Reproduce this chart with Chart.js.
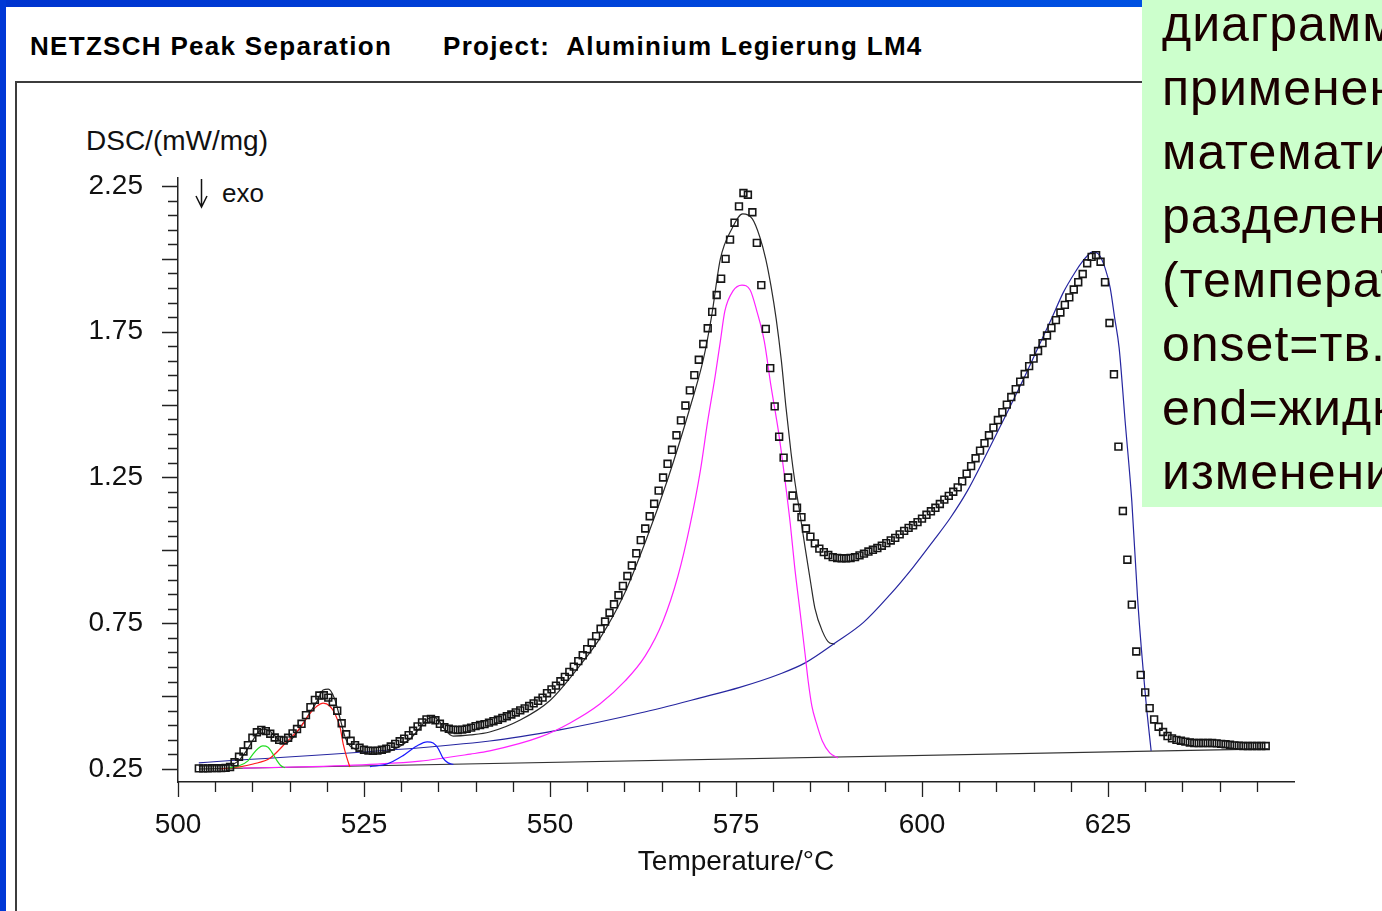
<!DOCTYPE html>
<html>
<head>
<meta charset="utf-8">
<title>NETZSCH Peak Separation</title>
<script src="https://cdn.jsdelivr.net/npm/chart.js@4.4.1/dist/chart.umd.min.js"></script>
<style>
  html, body { margin: 0; padding: 0; }
  body { width: 1382px; height: 911px; position: relative; overflow: hidden; background: #fff;
         font-family: "Liberation Sans", Arial, sans-serif; color: #111; }
  #blueTop { position: absolute; left: 0; top: 0; width: 1382px; height: 7px;
             background: linear-gradient(90deg, #0034cf, #0057e6); }
  #blueLeft { position: absolute; left: 0; top: 0; width: 6px; height: 911px; background: #0038d6; }
  #frame { position: absolute; left: 15px; top: 81px; width: 1400px; height: 900px;
           border-top: 2px solid #3c3c3c; border-left: 2px solid #3c3c3c; }
  .head { position: absolute; top: 33px; font-weight: bold; font-size: 26px; line-height: 26px;
          letter-spacing: 1.3px; color: #000; white-space: nowrap; }
  #yTitle { position: absolute; left: 86px; top: 127px; font-size: 28px; line-height: 28px; white-space: nowrap; }
  #exo { position: absolute; left: 222px; top: 180px; font-size: 26px; line-height: 26px; }
  #arrow { position: absolute; left: 190px; top: 176px; }
  #wrap { position: absolute; left: 0; top: 0; width: 1382px; height: 911px; }
  #note { position: absolute; left: 1142px; top: 0; width: 240px; height: 507px; background: #ccffcc;
          overflow: hidden; }
  #note div { position: absolute; left: 20px; top: -8px; font-size: 50px; line-height: 64px;
              letter-spacing: 1px; color: #1b0000; white-space: nowrap; }
</style>
</head>
<body>
<div id="blueTop"></div>
<div id="blueLeft"></div>
<div id="frame"></div>
<div class="head" style="left:30px">NETZSCH Peak Separation</div>
<div class="head" style="left:443px">Project:&nbsp; Aluminium Legierung LM4</div>
<div id="yTitle">DSC/(mW/mg)</div>
<svg id="arrow" width="24" height="36">
  <path d="M11.5 3 V31 M6 20 L11.5 31 L17 20" stroke="#111" stroke-width="1.5" fill="none"/>
</svg>
<div id="exo">exo</div>
<div id="wrap"><canvas id="myChart"></canvas></div>
<div id="note"><div>диаграммы<br>применение<br>математического<br>разделения<br>(температура<br>onset=тв.<br>end=жидкость<br>изменения</div></div>

<script>
// measured DSC curve, one square per sample
var tempC = [
  502.8, 503.4, 504.0, 504.6, 505.2, 505.8, 506.4, 507.0, 507.6, 508.2,
  508.8, 509.4, 510.0, 510.6, 511.2, 511.8, 512.4, 513.0, 513.6, 514.2,
  514.8, 515.4, 516.0, 516.6, 517.2, 517.8, 518.4, 519.0, 519.6, 520.2,
  520.8, 521.4, 522.0, 522.6, 523.2, 523.8, 524.4, 525.0, 525.6, 526.2,
  526.8, 527.4, 528.0, 528.6, 529.2, 529.8, 530.4, 531.0, 531.6, 532.2,
  532.8, 533.4, 534.0, 534.6, 535.2, 535.8, 536.4, 537.0, 537.6, 538.2,
  538.8, 539.4, 540.0, 540.6, 541.2, 541.8, 542.4, 543.0, 543.6, 544.2,
  544.8, 545.4, 546.0, 546.6, 547.2, 547.8, 548.4, 549.0, 549.6, 550.2,
  550.8, 551.4, 552.0, 552.6, 553.2, 553.8, 554.4, 555.0, 555.6, 556.2,
  556.8, 557.4, 558.0, 558.6, 559.2, 559.8, 560.4, 561.0, 561.6, 562.2,
  562.8, 563.4, 564.0, 564.6, 565.2, 565.8, 566.4, 567.0, 567.6, 568.2,
  568.8, 569.4, 570.0, 570.6, 571.2, 571.8, 572.4, 573.0, 573.6, 574.2,
  574.8, 575.4, 576.0, 576.6, 577.2, 577.8, 578.4, 579.0, 579.6, 580.2,
  580.8, 581.4, 582.0, 582.6, 583.2, 583.8, 584.4, 585.0, 585.6, 586.2,
  586.8, 587.4, 588.0, 588.6, 589.2, 589.8, 590.4, 591.0, 591.6, 592.2,
  592.8, 593.4, 594.0, 594.6, 595.2, 595.8, 596.4, 597.0, 597.6, 598.2,
  598.8, 599.4, 600.0, 600.6, 601.2, 601.8, 602.4, 603.0, 603.6, 604.2,
  604.8, 605.4, 606.0, 606.6, 607.2, 607.8, 608.4, 609.0, 609.6, 610.2,
  610.8, 611.4, 612.0, 612.6, 613.2, 613.8, 614.4, 615.0, 615.6, 616.2,
  616.8, 617.4, 618.0, 618.6, 619.2, 619.8, 620.4, 621.0, 621.6, 622.2,
  622.8, 623.4, 624.0, 624.6, 625.2, 625.8, 626.4, 627.0, 627.6, 628.2,
  628.8, 629.4, 630.0, 630.6, 631.2, 631.8, 632.4, 633.0, 633.6, 634.2,
  634.8, 635.4, 636.0, 636.6, 637.2, 637.8, 638.4, 639.0, 639.6, 640.2,
  640.8, 641.4, 642.0, 642.6, 643.2, 643.8, 644.4, 645.0, 645.6, 646.2
];
var dscMeasured = [
  0.252, 0.252, 0.252, 0.253, 0.253, 0.253, 0.254, 0.257, 0.273, 0.292,
  0.310, 0.332, 0.357, 0.376, 0.384, 0.380, 0.371, 0.358, 0.350, 0.348,
  0.357, 0.372, 0.387, 0.405, 0.435, 0.462, 0.487, 0.502, 0.503, 0.495,
  0.480, 0.450, 0.407, 0.369, 0.347, 0.332, 0.323, 0.316, 0.313, 0.312,
  0.313, 0.316, 0.320, 0.327, 0.336, 0.345, 0.354, 0.366, 0.381, 0.396,
  0.410, 0.420, 0.422, 0.417, 0.405, 0.393, 0.388, 0.385, 0.384, 0.385,
  0.388, 0.392, 0.397, 0.401, 0.404, 0.409, 0.414, 0.419, 0.425, 0.431,
  0.437, 0.444, 0.451, 0.458, 0.466, 0.475, 0.484, 0.495, 0.510, 0.523,
  0.536, 0.551, 0.566, 0.583, 0.601, 0.620, 0.640, 0.661, 0.683, 0.706,
  0.731, 0.756, 0.786, 0.815, 0.846, 0.878, 0.912, 0.948, 0.990, 1.035,
  1.075, 1.117, 1.160, 1.205, 1.250, 1.297, 1.345, 1.395, 1.446, 1.497,
  1.549, 1.601, 1.654, 1.708, 1.762, 1.818, 1.876, 1.932, 2.000, 2.066,
  2.124, 2.180, 2.226, 2.220, 2.160, 2.055, 1.910, 1.760, 1.625, 1.494,
  1.390, 1.318, 1.250, 1.188, 1.146, 1.114, 1.075, 1.047, 1.024, 1.006,
  0.994, 0.984, 0.977, 0.974, 0.973, 0.973, 0.974, 0.977, 0.983, 0.989,
  0.996, 1.002, 1.008, 1.016, 1.025, 1.034, 1.043, 1.055, 1.067, 1.077,
  1.086, 1.097, 1.109, 1.122, 1.134, 1.146, 1.159, 1.174, 1.187, 1.201,
  1.216, 1.237, 1.263, 1.289, 1.316, 1.342, 1.368, 1.395, 1.421, 1.447,
  1.474, 1.500, 1.526, 1.553, 1.579, 1.605, 1.632, 1.658, 1.684, 1.711,
  1.737, 1.763, 1.790, 1.816, 1.842, 1.868, 1.895, 1.920, 1.948, 1.985,
  2.007, 2.013, 1.990, 1.920, 1.780, 1.604, 1.356, 1.135, 0.968, 0.814,
  0.653, 0.573, 0.513, 0.459, 0.420, 0.395, 0.377, 0.363, 0.355, 0.350,
  0.347, 0.344, 0.341, 0.339, 0.339, 0.339, 0.339, 0.339, 0.338, 0.336,
  0.335, 0.333, 0.331, 0.330, 0.329, 0.329, 0.329, 0.329, 0.329, 0.329
];

// sum of the fitted peaks
var fitSumT = [502.8, 507.0, 508.1, 509.0, 510.0, 510.8, 511.4, 512.1, 512.9, 513.7, 514.5, 515.3,
  516.4, 517.7, 518.8, 519.5, 520.2, 521.0, 521.8, 522.5, 523.1, 524.2, 525.5, 527.2, 529.2, 531.2,
  532.5, 533.6, 534.3, 535.0, 535.9, 537.0, 539.3, 541.9, 546.0, 550.0, 553.9, 556.9, 559.9, 562.9,
  565.9, 568.9, 570.6, 571.7, 572.9, 574.5, 575.9, 577.2, 578.2, 579.0, 579.7, 580.4, 581.1, 581.7,
  582.4, 582.9, 583.6, 584.3, 585.0, 585.6, 586.6, 587.6, 588.3];
var fitSumV = [0.260, 0.264, 0.277, 0.305, 0.346, 0.377, 0.387, 0.384, 0.367, 0.346, 0.339, 0.353,
  0.391, 0.442, 0.487, 0.521, 0.524, 0.494, 0.422, 0.356, 0.329, 0.315, 0.305, 0.305, 0.319, 0.353,
  0.391, 0.422, 0.428, 0.418, 0.384, 0.363, 0.367, 0.377, 0.418, 0.485, 0.601, 0.706, 0.846, 1.035,
  1.250, 1.497, 1.654, 1.800, 2.000, 2.106, 2.154, 2.137, 2.075, 1.999, 1.907, 1.794, 1.650, 1.495,
  1.334, 1.238, 1.125, 1.008, 0.895, 0.802, 0.723, 0.682, 0.679];

// single peaks
var peak1T = [506.7, 508.3, 509.4, 510.1, 510.8, 511.4, 512.1, 512.6, 513.3, 513.8, 514.4];
var peak1V = [0.253, 0.262, 0.278, 0.302, 0.321, 0.329, 0.325, 0.308, 0.279, 0.262, 0.254];

var peak2T = [505.6, 508.3, 510.1, 512.4, 514.6, 516.4, 517.7, 518.7, 519.5, 520.4, 521.1, 521.8,
  522.2, 522.7, 523.1];
var peak2V = [0.250, 0.257, 0.267, 0.288, 0.343, 0.391, 0.439, 0.466, 0.476, 0.466, 0.439, 0.391,
  0.336, 0.288, 0.257];

var peak3T = [525.8, 528.1, 530.2, 532.1, 533.5, 534.3, 535.0, 535.6, 536.3, 537.0];
var peak3V = [0.258, 0.267, 0.295, 0.329, 0.343, 0.339, 0.319, 0.288, 0.271, 0.266];

var peak4T = [508.7, 516.4, 526.8, 532.5, 539.3, 541.9, 548.7, 552.7, 556.7, 560.1, 562.8, 565.2,
  567.2, 568.8, 570.2, 571.2, 572.2, 572.9, 573.5, 574.6, 575.8, 576.9, 577.8, 578.8, 579.7, 580.7,
  581.6, 582.3, 582.9, 583.6, 584.3, 584.7, 585.2, 585.8, 586.6, 587.6, 588.7];
var peak4V = [0.253, 0.257, 0.267, 0.277, 0.301, 0.312, 0.360, 0.408, 0.473, 0.552, 0.638, 0.758,
  0.912, 1.084, 1.272, 1.444, 1.598, 1.718, 1.821, 1.890, 1.910, 1.893, 1.821, 1.718, 1.564, 1.409,
  1.238, 1.090, 0.940, 0.792, 0.641, 0.552, 0.466, 0.408, 0.346, 0.305, 0.288];

var peak5T = [502.8, 541.9, 551.3, 562.1, 570.2, 575.5, 580.9, 584.3, 588.3, 592.1, 595.7, 598.8,
  601.5, 603.8, 606.1, 608.5, 611.0, 613.5, 615.9, 617.5, 619.0, 620.6, 621.6, 622.2, 622.9, 623.7,
  624.6, 625.3, 625.9, 626.5, 627.3, 628.2, 629.0, 630.1, 630.8];
var peak5V = [0.271, 0.346, 0.384, 0.442, 0.494, 0.530, 0.576, 0.614, 0.682, 0.752, 0.848, 0.942,
  1.032, 1.111, 1.204, 1.322, 1.450, 1.580, 1.712, 1.800, 1.885, 1.955, 1.992, 2.010, 2.024, 2.017,
  1.969, 1.900, 1.797, 1.694, 1.444, 1.169, 0.826, 0.483, 0.312];

var baseT = [502.8, 646.5];
var baseV = [0.250, 0.319];

var xTickLabels = [500, 525, 550, 575, 600, 625];
var yTickLabels = [0.25, 0.75, 1.25, 1.75, 2.25];
var xMinorStep = 5;
var yMinorStep = 0.05;

function pairs(xs, ys) {
  var out = [];
  for (var i = 0; i < xs.length; i++) out.push({x: xs[i], y: ys[i]});
  return out;
}

function fitLine(xs, ys, color) {
  return {
    data: pairs(xs, ys),
    showLine: true,
    borderColor: color,
    borderWidth: 1.2,
    pointRadius: 0,
    cubicInterpolationMode: 'monotone',
    fill: false
  };
}

// short and long tick marks outside the axes
var tickMarks = {
  id: 'tickMarks',
  afterDraw: function (chart) {
    var ctx = chart.ctx, xs = chart.scales.x, ys = chart.scales.y;
    ctx.save();
    ctx.strokeStyle = '#222';
    ctx.lineWidth = 1.3;
    ctx.beginPath();
    for (var t = xs.min; t < xs.max - 0.01; t += xMinorStep) {
      var px = Math.round(xs.getPixelForValue(t)) + 0.5;
      var lx = (Math.round(t) % 25 === 0) ? 15 : 10;
      ctx.moveTo(px, xs.top);
      ctx.lineTo(px, xs.top + lx);
    }
    var first = yTickLabels[0], last = yTickLabels[yTickLabels.length - 1];
    var n = Math.round((last - first) / yMinorStep);
    for (var k = 0; k <= n; k++) {
      var py = Math.round(ys.getPixelForValue(first + k * yMinorStep)) + 0.5;
      var ly = (k % 5 === 0) ? 16 : 10;
      ctx.moveTo(ys.right - ly, py);
      ctx.lineTo(ys.right, py);
    }
    ctx.stroke();
    ctx.restore();
  }
};

Chart.defaults.font.family = "'Liberation Sans', Arial, sans-serif";
Chart.defaults.color = '#111';

var datasets = [];
datasets.push({
  data: pairs(tempC, dscMeasured),
  showLine: false,
  pointStyle: 'rect',
  pointRadius: 4.8,
  pointBorderWidth: 1.6,
  pointBorderColor: '#161616',
  pointBackgroundColor: 'rgba(255,255,255,0)'
});
datasets.push(fitLine(peak1T, peak1V, '#22dd22'));
datasets.push(fitLine(peak2T, peak2V, '#ff1a1a'));
datasets.push(fitLine(peak3T, peak3V, '#1a1aff'));
datasets.push(fitLine(peak4T, peak4V, '#ff22ff'));
datasets.push(fitLine(peak5T, peak5V, '#2626a0'));
datasets.push(fitLine(fitSumT, fitSumV, '#2a2a2a'));
datasets.push(fitLine(baseT, baseV, '#333333'));

new Chart('myChart', {
  type: 'scatter',
  data: { datasets: datasets },
  plugins: [tickMarks],
  options: {
    responsive: true,
    maintainAspectRatio: false,
    animation: false,
    events: [],
    layout: { padding: { left: 78, top: 178, right: 88, bottom: 29 } },
    plugins: { legend: { display: false }, tooltip: { enabled: false } },
    scales: {
      x: {
        type: 'linear',
        min: 500,
        max: 650,
        afterFit: function (s) { s.height = 100; },
        afterBuildTicks: function (s) { s.ticks = xTickLabels.map(function (v) { return {value: v}; }); },
        grid: { display: false, drawTicks: false },
        border: { display: true, color: '#222', width: 1.5 },
        ticks: { padding: 26, font: { size: 28 }, color: '#111', maxRotation: 0, autoSkip: false },
        title: { display: true, text: 'Temperature/°C', font: { size: 28 }, color: '#111',
                 padding: { top: 0, bottom: 3 } }
      },
      y: {
        type: 'linear',
        min: 0.2054,
        max: 2.2774,
        afterFit: function (s) { s.width = 100; },
        afterBuildTicks: function (s) { s.ticks = yTickLabels.map(function (v) { return {value: v}; }); },
        grid: { display: false, drawTicks: false },
        border: { display: true, color: '#222', width: 1.5 },
        ticks: { padding: 35, font: { size: 28 }, color: '#111', autoSkip: false,
                 callback: function (v) { return v.toFixed(2); } }
      }
    }
  }
});
</script>
</body>
</html>
